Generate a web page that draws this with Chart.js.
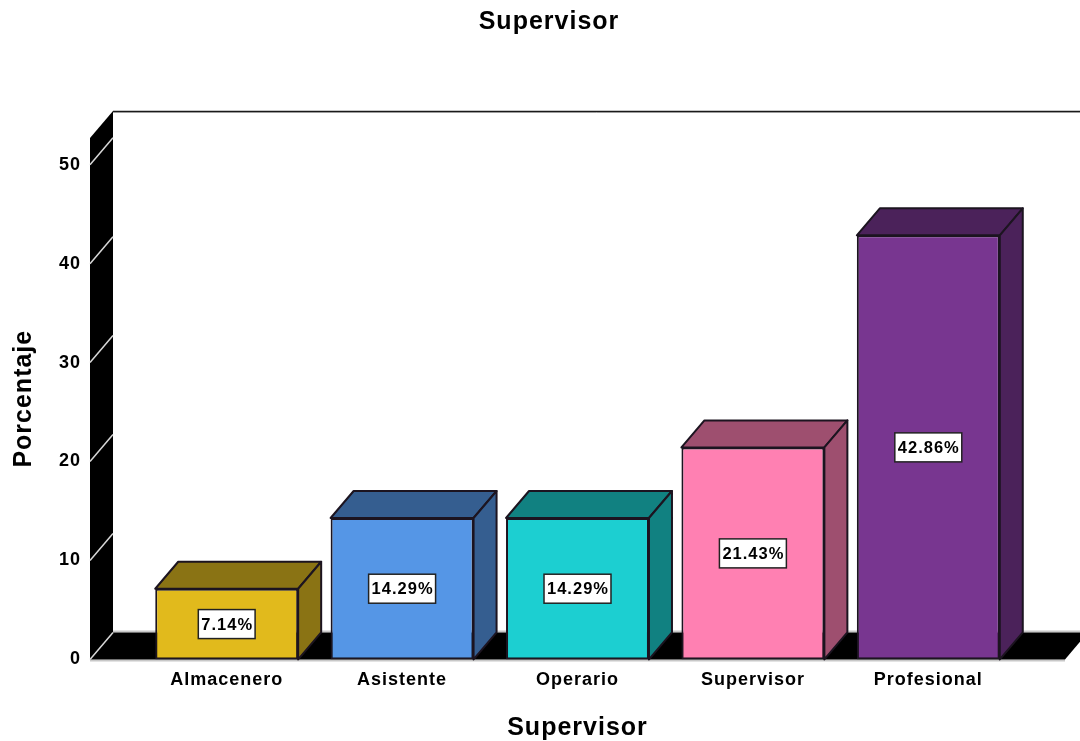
<!DOCTYPE html>
<html>
<head>
<meta charset="utf-8">
<title>Supervisor</title>
<script src="https://cdn.jsdelivr.net/npm/chart.js@4/dist/chart.umd.min.js"></script>
<style>
    body { margin: 0; background: #fff; }
    canvas { display: block; filter: blur(0.45px); }
</style>
</head>
<body>
<canvas id="supervisorChart" width="1080" height="741"></canvas>
<script>
const categories = ['Almacenero', 'Asistente', 'Operario', 'Supervisor', 'Profesional'];
const percentages = [7.14, 14.29, 14.29, 21.43, 42.86];
const frontColors = ['#E1BA1C', '#5596E6', '#1CCFD1', '#FF80B2', '#783690'];
const depthColors = ['#8A7314', '#355E90', '#118181', '#9E4F6F', '#4B225A'];
const yTicks = [0, 10, 20, 30, 40, 50];

const depthX = 23;
const depthY = 27;
const sideGap = 49;

function polygon(ctx, points, fill) {
    ctx.beginPath();
    points.forEach((p, i) => i ? ctx.lineTo(p[0], p[1]) : ctx.moveTo(p[0], p[1]));
    ctx.closePath();
    ctx.fillStyle = fill;
    ctx.fill();
}

// SPSS style fake 3D: walls behind the bars, depth faces and the value boxes
const box3d = {
    id: 'box3d',
    beforeUpdate(chart) {
        chart.ctx.letterSpacing = '1px';
    },
    beforeRender(chart) {
        chart.ctx.letterSpacing = '1px';
    },
    afterLayout(chart) {
        // title sits a bit right of the page centre
        chart.titleBlock.left = 9;
        chart.titleBlock.right = 1089;
    },
    beforeDatasetsDraw(chart) {
        const ctx = chart.ctx;
        const area = chart.chartArea;
        const yScale = chart.scales.y;
        const wallX = area.left - sideGap;
        const floorRight = area.right + sideGap;

        ctx.save();
        // back wall top line
        ctx.strokeStyle = '#c8c8c8';
        ctx.lineWidth = 1;
        ctx.beginPath();
        ctx.moveTo(wallX + depthX, area.top - depthY + 1.5);
        ctx.lineTo(1080, area.top - depthY + 1.5);
        ctx.stroke();
        ctx.strokeStyle = '#1a1a1a';
        ctx.lineWidth = 1.5;
        ctx.beginPath();
        ctx.moveTo(wallX + depthX, area.top - depthY + 0.5);
        ctx.lineTo(1080, area.top - depthY + 0.5);
        ctx.stroke();

        // floor
        ctx.strokeStyle = '#c8c8c8';
        ctx.lineWidth = 2;
        ctx.beginPath();
        ctx.moveTo(wallX + depthX, area.bottom - depthY - 1);
        ctx.lineTo(1080, area.bottom - depthY - 1);
        ctx.moveTo(wallX, area.bottom + 1);
        ctx.lineTo(floorRight, area.bottom + 1);
        ctx.stroke();
        polygon(ctx, [
            [wallX, area.bottom],
            [floorRight, area.bottom],
            [floorRight + depthX, area.bottom - depthY],
            [wallX + depthX, area.bottom - depthY]
        ], '#000');

        // left wall
        polygon(ctx, [
            [wallX, area.bottom],
            [wallX + depthX, area.bottom - depthY],
            [wallX + depthX, area.top - depthY],
            [wallX, area.top]
        ], '#000');

        // grid lines across the wall
        ctx.strokeStyle = '#d8d8d8';
        ctx.lineWidth = 1.5;
        yTicks.forEach(v => {
            const y = yScale.getPixelForValue(v);
            ctx.beginPath();
            ctx.moveTo(wallX, y);
            ctx.lineTo(wallX + depthX, y - depthY);
            ctx.stroke();
        });

        // top and side faces of the bars
        ctx.lineJoin = 'round';
        chart.getDatasetMeta(0).data.forEach((bar, i) => {
            const left = bar.x - bar.width / 2;
            const right = bar.x + bar.width / 2;
            const top = [[left, bar.y], [left + depthX, bar.y - depthY], [right + depthX, bar.y - depthY], [right, bar.y]];
            const side = [[right, bar.y], [right + depthX, bar.y - depthY], [right + depthX, bar.base - depthY], [right, bar.base]];
            [top, side].forEach(face => {
                polygon(ctx, face, depthColors[i]);
                ctx.strokeStyle = '#1c1420';
                ctx.lineWidth = 2;
                ctx.stroke();
            });
        });
        ctx.restore();
    },
    afterDatasetsDraw(chart) {
        const ctx = chart.ctx;
        ctx.save();
        ctx.font = 'bold 16.5px "Liberation Sans", Arial, sans-serif';
        ctx.textAlign = 'center';
        ctx.textBaseline = 'middle';
        chart.getDatasetMeta(0).data.forEach((bar, i) => {
            const label = percentages[i].toFixed(2) + '%';
            const w = ctx.measureText(label).width + 5;
            const h = 29;
            const cy = (bar.y + bar.base) / 2;
            ctx.fillStyle = '#fff';
            ctx.strokeStyle = '#222';
            ctx.lineWidth = 1.5;
            ctx.fillRect(bar.x - w / 2, cy - h / 2, w, h);
            ctx.strokeRect(bar.x - w / 2, cy - h / 2, w, h);
            ctx.fillStyle = '#000';
            ctx.fillText(label, bar.x + 0.5, cy + 1);
        });
        ctx.restore();
    }
};

const titleFont = { family: '"Liberation Sans", Arial, sans-serif', size: 25, weight: 'bold' };
const tickFont = { family: '"Liberation Sans", Arial, sans-serif', size: 18, weight: 'bold' };

new Chart(document.getElementById('supervisorChart'), {
    type: 'bar',
    data: {
        labels: categories,
        datasets: [{
            data: percentages,
            backgroundColor: frontColors,
            borderColor: '#1c1420',
            borderWidth: 2,
            borderSkipped: false,
            barPercentage: 0.815,
            categoryPercentage: 1
        }]
    },
    options: {
        responsive: false,
        animation: false,
        layout: { padding: { top: 7, right: 64, bottom: 0, left: 0 } },
        plugins: {
            legend: { display: false },
            tooltip: { enabled: false },
            title: {
                display: true,
                text: 'Supervisor',
                color: '#000',
                font: titleFont,
                padding: { top: 0, bottom: 101 }
            }
        },
        scales: {
            x: {
                grid: { display: false },
                border: { display: false },
                ticks: { color: '#000', font: tickFont, padding: 2, autoSkip: false, maxRotation: 0 },
                title: { display: true, text: 'Supervisor', color: '#000', font: titleFont, padding: { top: 20, bottom: -2 } }
            },
            y: {
                min: 0,
                max: 52.7,
                afterFit(scale) { scale.width = 139; },
                grid: { display: false },
                border: { display: false },
                ticks: { color: '#000', font: tickFont, padding: 50, stepSize: 10, includeBounds: false },
                title: { display: true, text: 'Porcentaje', color: '#000', font: titleFont, padding: { top: 9, bottom: 0 } }
            }
        }
    },
    plugins: [box3d]
});
</script>
</body>
</html>
